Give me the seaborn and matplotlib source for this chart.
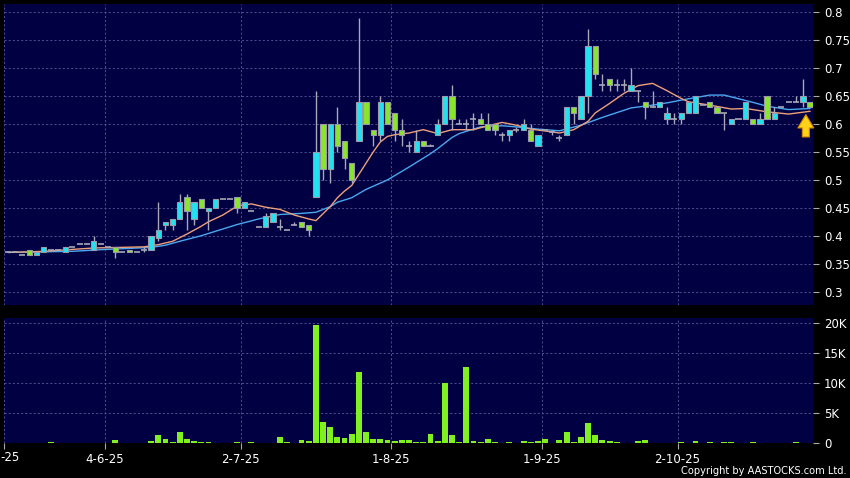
import numpy as np
import pandas as pd
import matplotlib
matplotlib.use("Agg")
import matplotlib.pyplot as plt
import seaborn as sns

# --- daily prices (index = trading day) ---
opens = [
    .37, .37, .365, .375, .365, .37, .375, .375, .37, .38,
    .385, .385, .375, .385, .38, .38, .37, .375, .37, .375,
    .375, .395, .42, .42, .43, .47, .43, .465, .445, .45,
    .465, .465, .47, .45, .445, .415, .415, .425, .415, .41,
    .42, .425, .42, .47, .60, .52, .60, .57, .53, .57,
    .64, .59, .58, .64, .62, .59, .56, .55, .57, .56,
    .58, .60, .65, .60, .60, .61, .61, .60, .60, .58,
    .58, .59, .59, .59, .56, .59, .585, .575, .58, .63,
    .61, .65, .74, .67, .68, .67, .67, .66, .66, .64,
    .63, .63, .61, .61, .61, .62, .62, .635, .64, .63,
    .62, .60, .61, .61, .61, .60, .65, .61, .63, .64,
    .64, .64, .64]
closes = [
    .37, .37, .365, .365, .37, .38, .375, .375, .38, .38,
    .385, .385, .39, .385, .38, .37, .37, .37, .37, .375,
    .40, .41, .425, .43, .46, .445, .46, .45, .45, .465,
    .465, .465, .45, .46, .445, .415, .435, .44, .415, .41,
    .42, .415, .41, .55, .52, .60, .56, .54, .50, .64,
    .60, .58, .64, .60, .59, .58, .56, .57, .56, .56,
    .60, .65, .61, .60, .60, .61, .60, .59, .59, .58,
    .59, .59, .60, .57, .58, .59, .585, .575, .63, .62,
    .65, .74, .69, .67, .67, .67, .67, .67, .66, .63,
    .63, .64, .62, .61, .62, .64, .65, .635, .63, .62,
    .62, .61, .61, .64, .60, .61, .61, .62, .63, .64,
    .64, .65, .63]
highs = [
    .37, .37, .365, .375, .37, .38, .375, .375, .38, .38,
    .385, .385, .40, .385, .38, .38, .37, .375, .37, .38,
    .40, .46, .425, .43, .475, .475, .46, .465, .45, .465,
    .465, .465, .47, .46, .445, .415, .44, .44, .43, .41,
    .425, .425, .42, .66, .60, .60, .63, .57, .53, .79,
    .64, .59, .65, .64, .62, .61, .57, .59, .57, .565,
    .61, .65, .67, .61, .61, .62, .62, .62, .60, .585,
    .59, .595, .61, .60, .58, .59, .59, .58, .63, .63,
    .65, .77, .74, .69, .68, .68, .68, .70, .66, .64,
    .66, .64, .63, .62, .62, .64, .65, .635, .64, .63,
    .62, .61, .61, .64, .61, .62, .65, .63, .63, .64,
    .65, .68, .64]
lows = [
    .37, .37, .365, .365, .365, .37, .375, .375, .37, .38,
    .385, .385, .375, .385, .38, .36, .37, .37, .37, .37,
    .375, .39, .41, .41, .43, .41, .42, .45, .41, .45,
    .465, .465, .44, .45, .445, .415, .415, .425, .41, .41,
    .42, .415, .40, .47, .50, .495, .55, .52, .495, .57,
    .60, .56, .57, .60, .57, .56, .55, .55, .56, .56,
    .58, .60, .59, .60, .59, .59, .60, .59, .58, .57,
    .57, .585, .59, .57, .56, .59, .58, .57, .58, .60,
    .61, .62, .68, .66, .66, .66, .66, .66, .64, .61,
    .63, .63, .60, .60, .60, .62, .62, .635, .63, .62,
    .59, .60, .61, .61, .60, .60, .61, .61, .63, .64,
    .64, .63, .63]
# volume in thousands of shares
volume_k = [
    0, 0, 0, 0, 0, 0, 0.15, 0, 0, 0,
    0, 0.08, 0.08, 0, 0, 0.55, 0.1, 0, 0, 0.1,
    0.35, 1.4, 0.65, 0.2, 1.9, 0.65, 0.45, 0.2, 0.2, 0,
    0, 0, 0.15, 0, 0.15, 0, 0, 0, 1.1, 0.2,
    0, 0.5, 0.3, 19.7, 3.6, 2.7, 1.1, 0.85, 1.5, 11.9,
    1.85, 0.75, 0.75, 0.6, 0.3, 0.5, 0.5, 0.2, 0.2, 1.55,
    0.45, 10.0, 1.35, 0.2, 12.7, 0.45, 0.2, 0.75, 0.15, 0,
    0.15, 0, 0.45, 0.2, 0.4, 0.65, 0, 0.5, 1.85, 0.2,
    1.0, 3.3, 1.35, 0.5, 0.4, 0.15, 0, 0, 0.35, 0.6,
    0, 0, 0, 0, 0.2, 0, 0.35, 0, 0.15, 0,
    0.2, 0.2, 0, 0, 0.15, 0, 0, 0.05, 0.05, 0,
    0.15, 0, 0]

# moving averages, sampled off the chart
ma_fast_day = [0, 5, 12, 19, 21, 23, 25, 27, 28, 30, 32, 34, 36, 38, 40, 42, 43, 45,
               46, 47, 48, 49, 50, 51, 52, 53, 54, 56, 58, 60, 62, 65, 67, 69, 71, 73,
               76, 77, 79, 81, 82, 84, 86, 88, 90, 92, 94, 95, 98, 101, 103, 106, 109, 112]
ma_fast = [0.37, 0.372, 0.378, 0.38, 0.384, 0.39, 0.403, 0.417, 0.425, 0.437, 0.453,
           0.457, 0.451, 0.447, 0.437, 0.43, 0.427, 0.452, 0.468, 0.48, 0.49, 0.51,
           0.53, 0.55, 0.568, 0.578, 0.581, 0.584, 0.59, 0.583, 0.59, 0.59, 0.597,
           0.603, 0.598, 0.591, 0.586, 0.584, 0.59, 0.605, 0.62, 0.637, 0.655, 0.669,
           0.673, 0.66, 0.646, 0.64, 0.634, 0.627, 0.628, 0.622, 0.618, 0.623]
ma_slow_day = [0, 9, 13, 20, 22, 24, 27, 30, 32, 35, 38, 41, 43, 45, 46, 48, 50, 53, 56,
               59, 60, 62, 63, 66, 69, 71, 74, 77, 80, 83, 87, 90, 92, 94, 98, 100, 104,
               106, 109, 112]
ma_slow = [0.37, 0.372, 0.375, 0.379, 0.383, 0.39, 0.40, 0.412, 0.42, 0.43, 0.438, 0.44,
           0.442, 0.452, 0.46, 0.468, 0.483, 0.50, 0.523, 0.547, 0.556, 0.576, 0.583,
           0.595, 0.597, 0.595, 0.591, 0.588, 0.598, 0.612, 0.629, 0.634, 0.638, 0.643,
           0.652, 0.652, 0.639, 0.632, 0.626, 0.628]

date_ticks = [-0.5, 13.5, 32.5, 53.5, 74.5, 93.5]
# the first label is cut by the left edge in the original, only "-25" shows
date_labels = ["", "4-6-25", "2-7-25", "1-8-25", "1-9-25", "2-10-25"]
first_label = "-25"
price_ticks = [0.3, 0.35, 0.4, 0.45, 0.5, 0.55, 0.6, 0.65, 0.7, 0.75, 0.8]
price_labels = ["0.3", "0.35", "0.4", "0.45", "0.5", "0.55", "0.6", "0.65", "0.7", "0.75", "0.8"]
vol_ticks = [0, 5, 10, 15, 20]
vol_labels = ["0", "5K", "10K", "15K", "20K"]

BG = "#000042"
GRID = "#5a5a96"
UP = "#22e2f2"
DOWN = "#8ae62a"
VOL = "#80f020"
WICK = "#a8a8b8"
EDGE = "#9a9aa8"

sns.set_style("dark", {"axes.facecolor": BG, "figure.facecolor": "black"})
plt.rcParams["font.family"] = ["DejaVu Sans"]

df = pd.DataFrame({"open": opens, "high": highs, "low": lows, "close": closes, "vol": volume_k})
df["day"] = np.arange(len(df))

fig = plt.figure(figsize=(8.5, 4.78), dpi=100, facecolor="black")
ax = fig.add_axes([0.00506, 0.3619, 0.9514, 0.6297])
axv = fig.add_axes([0.00506, 0.0726, 0.9514, 0.2621], sharex=ax)

# moving averages under the candles
sns.lineplot(x=ma_slow_day, y=ma_slow, ax=ax, color="#4aa8f0", lw=1.0, zorder=2)
sns.lineplot(x=ma_fast_day, y=ma_fast, ax=ax, color="#f0a07a", lw=1.0, zorder=2)

# candles
up = df.close > df.open
down = df.close < df.open
flat = df.close == df.open
body_lo = df[["open", "close"]].min(axis=1)
body_h = (df.close - df.open).abs()
ax.vlines(df.day, df.low, df.high, color=WICK, lw=1.0, zorder=3)
ax.bar(df.day[up], body_h[up], bottom=body_lo[up], width=0.74, color=UP,
       edgecolor=EDGE, linewidth=0.8, zorder=4)
ax.bar(df.day[down], body_h[down], bottom=body_lo[down], width=0.74, color=DOWN,
       edgecolor=EDGE, linewidth=0.8, zorder=4)
ax.hlines(df.close[flat], df.day[flat] - 0.42, df.day[flat] + 0.42, color=WICK, lw=1.2, zorder=4)

# yellow marker arrow on the last session
ax.annotate("", xy=(111.4, 0.617), xytext=(111.4, 0.577),
            arrowprops=dict(arrowstyle="simple,head_length=0.8,head_width=0.95,tail_width=0.42",
                            fc="#ffd21a", ec="#d88a00", lw=0.8, mutation_scale=12,
                            shrinkA=0, shrinkB=0), zorder=6)

# volume
sns.barplot(x=df.day, y=df.vol, ax=axv, color=VOL, saturation=1, width=0.82,
            native_scale=True, linewidth=0, zorder=3)

for a in (ax, axv):
    a.set_facecolor(BG)
    for s in a.spines.values():
        s.set_visible(False)
    a.grid(True, color=GRID, ls=(0, (2.5, 2.5)), lw=0.6)
    a.set_axisbelow(True)
    a.yaxis.tick_right()
    a.tick_params(axis="y", which="both", right=True, left=False, direction="out",
                  length=4, width=0.8, color="#aaaaaa", labelcolor="white",
                  labelsize=8.5, pad=4)
    a.set_xlabel("")
    a.set_ylabel("")

ax.set_xlim(-0.5, 112.4)
ax.set_ylim(0.2758, 0.8152)
ax.set_yticks(price_ticks, price_labels)
ax.set_xticks(date_ticks)
ax.tick_params(axis="x", bottom=False, labelbottom=False)

axv.set_ylim(0, 20.88)
axv.set_yticks(vol_ticks, vol_labels)
axv.set_xticks(date_ticks, date_labels)
axv.tick_params(axis="x", bottom=True, direction="out", length=4, width=0.8,
                color="#aaaaaa", labelcolor="white", labelsize=8.5, pad=3)
fig.text(0.001, 0.042, first_label, ha="left", va="center", color="white", fontsize=8.5)

fig.text(0.996, 0.004, "Copyright by AASTOCKS.com Ltd.", ha="right", va="bottom",
         color="white", fontsize=7.1)

fig.savefig("out.png", dpi=100, facecolor="black")
